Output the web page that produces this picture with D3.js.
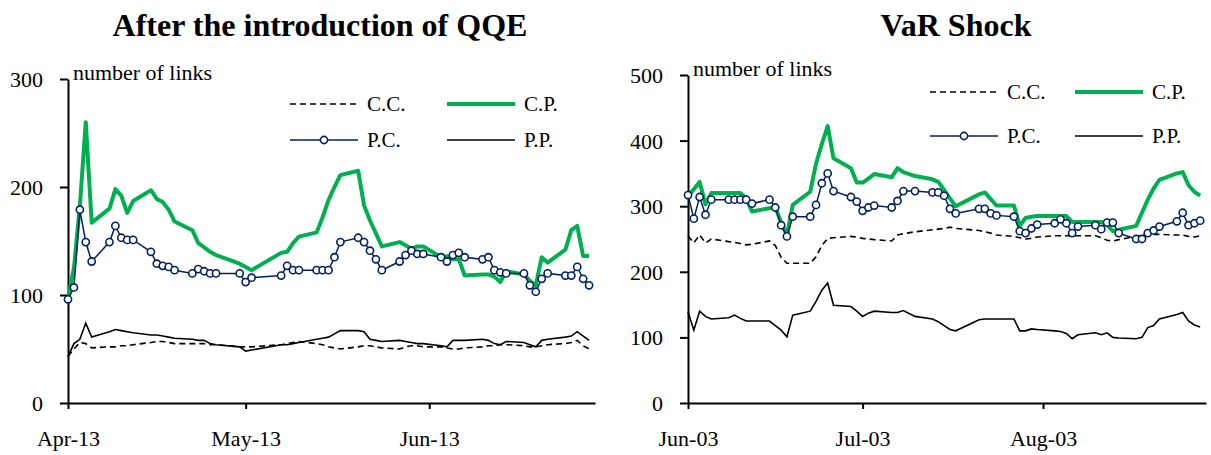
<!DOCTYPE html>
<html>
<head>
<meta charset="utf-8">
<script src="https://cdn.jsdelivr.net/npm/d3@7"></script>
<style>
  body { margin: 0; background: #fff; }
  svg { display: block; }
</style>
</head>
<body>
<script>
// ---- data: left panel (after QQE, 2013) ----
const qqeDates = [
  "2013-04-01","2013-04-02","2013-04-03","2013-04-04","2013-04-05",
  "2013-04-08","2013-04-09","2013-04-10","2013-04-11","2013-04-12",
  "2013-04-15","2013-04-16","2013-04-17","2013-04-18","2013-04-19",
  "2013-04-22","2013-04-23","2013-04-24","2013-04-25","2013-04-26",
  "2013-04-30","2013-05-01","2013-05-02",
  "2013-05-07","2013-05-08","2013-05-09","2013-05-10",
  "2013-05-13","2013-05-14","2013-05-15","2013-05-16","2013-05-17",
  "2013-05-20","2013-05-21","2013-05-22","2013-05-23","2013-05-24",
  "2013-05-27","2013-05-28","2013-05-29","2013-05-30","2013-05-31",
  "2013-06-03","2013-06-04","2013-06-05","2013-06-06","2013-06-07",
  "2013-06-10","2013-06-11","2013-06-12","2013-06-13","2013-06-14",
  "2013-06-17","2013-06-18","2013-06-19","2013-06-20","2013-06-21",
  "2013-06-24","2013-06-25","2013-06-26","2013-06-27","2013-06-28"
];
const qqeCC = [43,50,56,55,51, 52,52,53,53,54, 56,57,57,56,55, 55,55,55,54,54,
  52,52,52, 54,55,56,57, 55,54,52,51,50, 52,53,53,52,51, 50,52,53,53,52,
  52,51,50,50,51, 52,53,53,54,54, 53,52,52,53,54, 55,56,58,53,50];
const qqeCP = [97,125,182,260,167, 180,198,192,176,187, 197,189,186,179,168, 160,148,144,140,137,
  129,126,123, 139,140,148,154, 158,172,188,200,211, 215,183,169,157,145, 149,146,143,145,145,
  135,136,133,133,118, 119,119,117,112,122, 119,113,109,135,130, 142,160,164,136,136];
const qqePC = [96,107,179,149,131, 149,164,153,151,151, 140,129,127,126,123, 120,124,122,120,120,
  120,112,116, 118,127,123,123, 123,123,123,135,149, 153,149,141,133,123, 131,137,141,138,138,
  135,131,137,139,135, 133,135,123,121,120, 120,109,103,115,120, 118,118,126,115,109];
const qqePP = [43,55,59,74,61, 66,68,67,66,65, 63,63,62,61,60, 59,58,58,55,54,
  52,48,49, 54,54,55,56, 59,60,61,64,67, 67,66,59,58,57, 58,57,56,55,55,
  53,52,58,58,58, 59,58,55,54,57, 56,54,52,58,59, 61,62,66,62,58];
const qqeYTicks = [0, 100, 200, 300];

// ---- data: right panel (VaR shock, 2003) ----
const varDates = [
  "2003-06-02","2003-06-03","2003-06-04","2003-06-05","2003-06-06",
  "2003-06-09","2003-06-10","2003-06-11","2003-06-12","2003-06-13",
  "2003-06-16","2003-06-17","2003-06-18","2003-06-19","2003-06-20",
  "2003-06-23","2003-06-24","2003-06-25","2003-06-26","2003-06-27",
  "2003-06-30","2003-07-01","2003-07-02","2003-07-03","2003-07-04",
  "2003-07-07","2003-07-08","2003-07-09","2003-07-11",
  "2003-07-14","2003-07-15","2003-07-16","2003-07-17","2003-07-18",
  "2003-07-22","2003-07-23","2003-07-24","2003-07-25",
  "2003-07-28","2003-07-29","2003-07-30","2003-07-31","2003-08-01",
  "2003-08-04","2003-08-05","2003-08-06","2003-08-07","2003-08-08",
  "2003-08-11","2003-08-12","2003-08-13","2003-08-14","2003-08-15",
  "2003-08-18","2003-08-19","2003-08-20","2003-08-21","2003-08-22",
  "2003-08-25","2003-08-26","2003-08-27","2003-08-28","2003-08-29"
];
const varCC = [255,244,256,244,250, 246,245,243,241,242, 247,240,222,213,213, 213,223,240,251,252,
  254,253,251,250,249, 247,256,258,261, 264,265,266,268,266, 263,261,259,256,
  254,252,250,251,253, 255,255,255,255,255, 255,252,248,247,249, 254,256,257,257,257,
  256,256,254,253,255];
const varCP = [315,326,337,303,320, 320,320,320,312,292, 297,299,275,256,302, 322,365,395,422,373,
  358,336,336,342,349, 344,358,352,346, 341,337,325,312,300, 318,321,311,301,
  301,270,282,284,285, 285,285,285,276,276, 276,276,272,262,264, 270,290,310,327,340,
  350,352,332,322,316];
const varPC = [317,281,314,287,310, 310,310,310,310,304, 310,298,271,254,284, 284,302,335,350,323,
  314,307,293,298,301, 298,308,323,323, 321,321,316,296,289, 296,296,289,286,
  284,262,259,266,272, 274,280,274,259,269, 271,265,275,275,259, 250,250,259,263,269,
  277,290,271,274,278];
const varPP = [139,111,140,132,128, 130,134,129,125,125, 125,118,111,101,134, 140,155,172,183,149,
  147,140,132,137,140, 138,138,141,132, 128,124,118,112,110, 127,128,128,128,
  128,110,110,113,112, 110,109,106,98,104, 107,104,107,100,99, 98,100,115,118,128,
  135,138,125,119,116];
const varYTicks = [0, 100, 200, 300, 400, 500];

const seriesNames = ["C.C.", "C.P.", "P.C.", "P.P."];

const parse = d3.timeParse("%Y-%m-%d");
const fmt = d3.timeFormat("%b-%y");
const SERIF = '"Liberation Serif", "Times New Roman", serif';
const GREEN = "#00B050", NAVY = "#002060";

const svg = d3.select("body").append("svg")
  .attr("width", 1211).attr("height", 455)
  .style("font-family", SERIF);

function drawPanel(p) {
  const dates = p.dates.map(parse);
  const start = dates[0];
  const end = d3.timeDay.offset(dates[dates.length - 1], p.extraDays);
  const x = d3.scaleTime().domain([start, end]).range([p.left, p.right]);
  const y = d3.scaleLinear().domain([0, d3.max(p.yTicks)]).range([403, p.top]);

  const g = svg.append("g");

  // title
  g.append("text")
    .attr("x", p.titleX).attr("y", 36)
    .attr("text-anchor", "middle")
    .style("font-family", SERIF)
    .style("font-size", "32px").style("font-weight", "bold")
    .text(p.title);

  // axes
  const yAxis = d3.axisLeft(y).tickValues(p.yTicks).tickSize(8).tickSizeOuter(0).tickPadding(17);
  g.append("g").attr("transform", `translate(${p.left},0)`).call(yAxis)
    .attr("font-family", null)
    .call(a => a.selectAll("path,line").attr("stroke", "#000").attr("stroke-width", 2))
    .call(a => a.selectAll("text").style("font-size", "22px")
      .style("font-family", SERIF).attr("fill", "#000").attr("dy", "0.34em"));

  const monthTicks = [0, 1, 2].map(i => d3.timeMonth.offset(start, i));
  const xAxis = d3.axisBottom(x).tickValues(monthTicks).tickFormat(fmt).tickSize(6).tickSizeOuter(0);
  g.append("g").attr("transform", "translate(0,403)").call(xAxis)
    .attr("font-family", null)
    .call(a => a.selectAll("path,line").attr("stroke", "#000").attr("stroke-width", 2))
    .call(a => a.selectAll("text").style("font-size", "22px")
      .style("font-family", SERIF).attr("fill", "#000").attr("y", 43).attr("dy", 0));

  // axis note
  g.append("text")
    .attr("x", p.left + 5).attr("y", p.top + 1)
    .style("font-family", SERIF)
    .style("font-size", "20px")
    .attr("textLength", 139).attr("lengthAdjust", "spacingAndGlyphs")
    .text("number of links");

  const rows = dates.map((d, i) => ({ date: d, cc: p.cc[i], cp: p.cp[i], pc: p.pc[i], pp: p.pp[i] }));
  const line = key => d3.line().x(d => x(d.date)).y(d => y(d[key]))(rows);

  g.append("path").attr("d", line("cc")).attr("fill", "none")
    .attr("stroke", "#000").attr("stroke-width", 1.6).attr("stroke-dasharray", "6,4");
  g.append("path").attr("d", line("pp")).attr("fill", "none")
    .attr("stroke", "#000").attr("stroke-width", 1.6);
  g.append("path").attr("d", line("cp")).attr("fill", "none")
    .attr("stroke", GREEN).attr("stroke-width", 4).attr("stroke-linejoin", "round");
  g.append("path").attr("d", line("pc")).attr("fill", "none")
    .attr("stroke", NAVY).attr("stroke-width", 1.5);
  g.selectAll("circle.pc").data(rows).enter().append("circle")
    .attr("class", "pc")
    .attr("cx", d => x(d.date)).attr("cy", d => y(d.pc)).attr("r", 3.6)
    .attr("fill", "#fff").attr("stroke", NAVY).attr("stroke-width", 1.6);

  // legend
  const L = p.legend;
  const items = [
    { name: seriesNames[0], x: L.x1, y: L.y1, stroke: "#000", w: 1.6, dash: "6,4" },
    { name: seriesNames[1], x: L.x2, y: L.y1, stroke: GREEN, w: 4 },
    { name: seriesNames[2], x: L.x1, y: L.y2, stroke: NAVY, w: 1.5, marker: true },
    { name: seriesNames[3], x: L.x2, y: L.y2, stroke: "#000", w: 1.6 }
  ];
  items.forEach(it => {
    g.append("line")
      .attr("x1", it.x).attr("x2", it.x + L.len)
      .attr("y1", it.y).attr("y2", it.y)
      .attr("stroke", it.stroke).attr("stroke-width", it.w)
      .attr("stroke-dasharray", it.dash || null);
    if (it.marker) {
      g.append("circle").attr("cx", it.x + L.len / 2).attr("cy", it.y).attr("r", 3.6)
        .attr("fill", "#fff").attr("stroke", NAVY).attr("stroke-width", 1.6);
    }
    g.append("text")
      .attr("x", it.x + L.len + L.gap).attr("y", it.y + 7)
      .style("font-family", SERIF)
      .style("font-size", "21px")
      .text(it.name);
  });
}

drawPanel({
  title: "After the introduction of QQE", titleX: 320,
  dates: qqeDates, cc: qqeCC, cp: qqeCP, pc: qqePC, pp: qqePP,
  yTicks: qqeYTicks, left: 68, right: 595, top: 79, extraDays: 1,
  legend: { x1: 290, x2: 447, y1: 104, y2: 140, len: 68, gap: 9 }
});

drawPanel({
  title: "VaR Shock", titleX: 956,
  dates: varDates, cc: varCC, cp: varCP, pc: varPC, pp: varPP,
  yTicks: varYTicks, left: 688, right: 1206, top: 75, extraDays: 1,
  legend: { x1: 930, x2: 1075, y1: 92, y2: 136, len: 68, gap: 9 }
});
</script>
</body>
</html>
